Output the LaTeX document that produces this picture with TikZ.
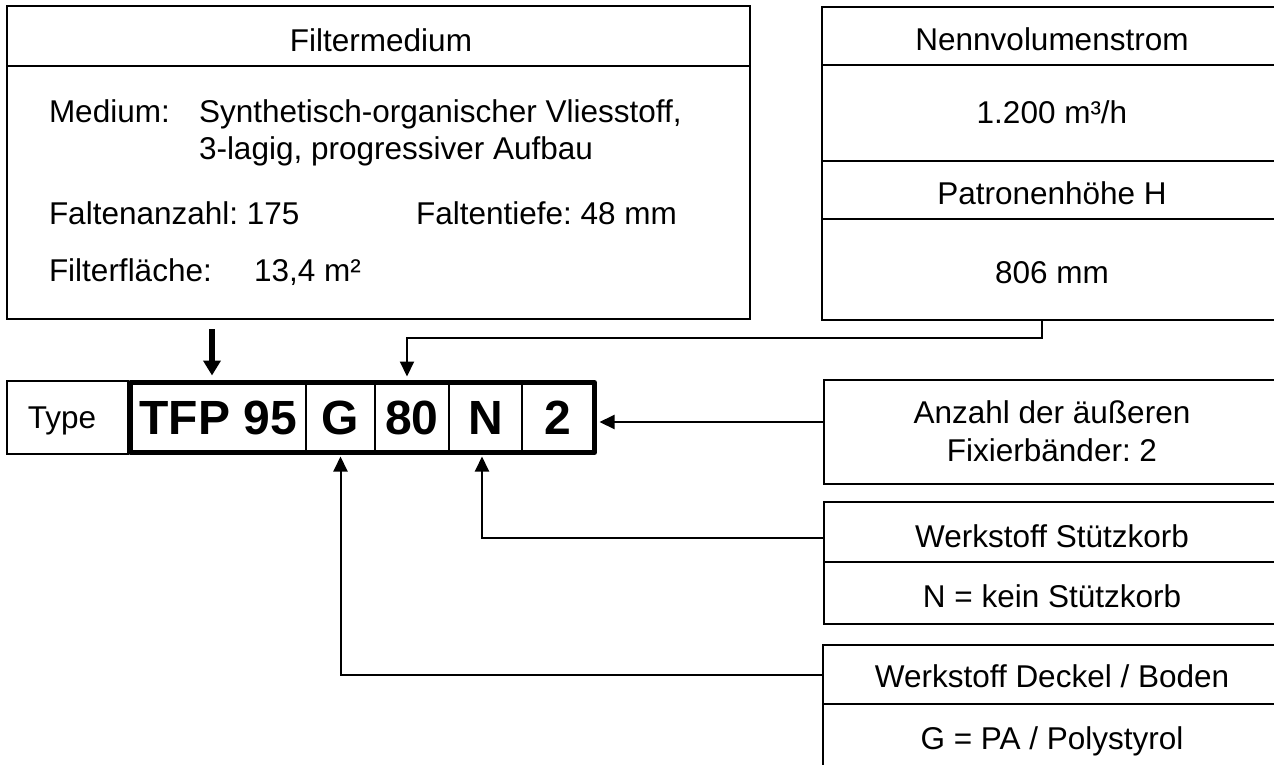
\documentclass[tikz,border=0pt]{standalone}
\usepackage{fontspec}
\setmainfont{Liberation Sans}
\usetikzlibrary{arrows.meta}
\frenchspacing
\begin{document}
\begin{tikzpicture}[x=1pt,y=-1pt,
  every node/.style={inner sep=0pt,outer sep=0pt},
  box/.style={draw,line width=2pt,rectangle,anchor=north west},
  txt/.style={font=\fontsize{31.5}{38}\selectfont},
  big/.style={font=\fontsize{48}{56}\selectfont\bfseries},
  ln/.style={line width=2pt},
  arr/.style={line width=2pt,-{Triangle[width=14pt,length=15pt]}},
  thickarr/.style={line width=6pt,-{Triangle[width=17pt,length=15pt]}},
  cell/.style={minimum height=70pt,big}]
\useasboundingbox (0,0) rectangle (1274,764);
\clip (0,0) rectangle (1274,764);

% Filtermedium box
\node[box,minimum width=743pt,minimum height=313pt] (fm) at (7,6) {};
\draw[ln] ([yshift=-60pt]fm.north west) -- ([yshift=-60pt]fm.north east);
\node[txt,anchor=base] (fmt) at (381,51) {Filtermedium};
\node[txt,anchor=base west] (med) at (49,122) {Medium:};
\node[txt,anchor=base west] (med1) at (199,122) {Synthetisch-organischer Vliesstoff,};
\node[txt,anchor=base west] (med2) at (199,159) {3-lagig, progressiver Aufbau};
\node[txt,anchor=base west] (fa) at (49,224) {Faltenanzahl: 175};
\node[txt,anchor=base west] (ft) at (416,224) {Faltentiefe: 48 mm};
\node[txt,anchor=base west] (ff) at (49,281) {Filterfläche:};
\node[txt,anchor=base west] (ffv) at (254,281) {13,4 m²};

% Nennvolumenstrom box
\node[box,minimum width=460pt,minimum height=313pt] (nenn) at (822,7) {};
\draw[ln] ([yshift=-58pt]nenn.north west) -- ([yshift=-58pt]nenn.north east);
\draw[ln] ([yshift=-154pt]nenn.north west) -- ([yshift=-154pt]nenn.north east);
\draw[ln] ([yshift=-212pt]nenn.north west) -- ([yshift=-212pt]nenn.north east);
\node[txt,anchor=base] (nt1) at (1052,50) {Nennvolumenstrom};
\node[txt,anchor=base] (nt2) at (1052,123) {1.200 m³/h};
\node[txt,anchor=base] (nt3) at (1052,204) {Patronenhöhe H};
\node[txt,anchor=base] (nt4) at (1052,283) {806 mm};

% Type
\node[box,minimum width=121pt,minimum height=73pt] (typ) at (7,381) {};
\node[txt,anchor=base] (typt) at (62,428) {Type};

% code cells
\node[cell,minimum width=175.5pt] (c1) at (218.25,417.5) {TFP 95};
\node[cell,minimum width=69pt] (cG) at (340.5,417.5) {G};
\node[cell,minimum width=74pt] (c80) at (412,417.5) {80};
\node[cell,minimum width=73pt] (cN) at (485.5,417.5) {N};
\node[cell,minimum width=72.5pt] (c2) at (558.25,417.5) {2};
\draw[ln] (c1.north east) -- (c1.south east);
\draw[ln] (cG.north east) -- (cG.south east);
\draw[ln] (c80.north east) -- (c80.south east);
\draw[ln] (cN.north east) -- (cN.south east);
\node[draw,line width=5pt,line join=round,anchor=north west,minimum width=464pt,minimum height=70pt] (code) at (130.5,382.5) {};

% right boxes
\node[box,minimum width=458pt,minimum height=104pt] (anz) at (824,380) {};
\node[txt,anchor=base] (anzt1) at (1052,423) {Anzahl der äußeren};
\node[txt,anchor=base] (anzt2) at (1052,461) {Fixierbänder: 2};

\node[box,minimum width=458pt,minimum height=122pt] (stk) at (824,502) {};
\draw[ln] ([yshift=-60pt]stk.north west) -- ([yshift=-60pt]stk.north east);
\node[txt,anchor=base] (stkt1) at (1052,547) {Werkstoff Stützkorb};
\node[txt,anchor=base] (stkt2) at (1052,607) {N = kein Stützkorb};

\node[box,minimum width=459pt,minimum height=200pt] (dek) at (823,645) {};
\draw[ln] ([yshift=-59pt]dek.north west) -- ([yshift=-59pt]dek.north east);
\node[txt,anchor=base] (dekt1) at (1052,687) {Werkstoff Deckel / Boden};
\node[txt,anchor=base] (dekt2) at (1052,749) {G = PA / Polystyrol};

% connectors
\draw[thickarr] ([xshift=205pt,yshift=-10pt]fm.south west) -- ([xshift=-6.25pt,yshift=7pt]c1.north);
\draw[arr] ([xshift=220pt]nenn.south west) -- ++(0,18) -| ([xshift=-5pt,yshift=6pt]c80.north);
\draw[arr] ([yshift=-42pt]anz.north west) -- ([xshift=5pt,yshift=-4.5pt]c2.east);
\draw[arr] ([yshift=-36pt]stk.north west) -| ([xshift=-3.5pt,yshift=-4pt]cN.south);
\draw[arr] ([yshift=-30pt]dek.north west) -| ([yshift=-4pt]cG.south);
\end{tikzpicture}
\end{document}
